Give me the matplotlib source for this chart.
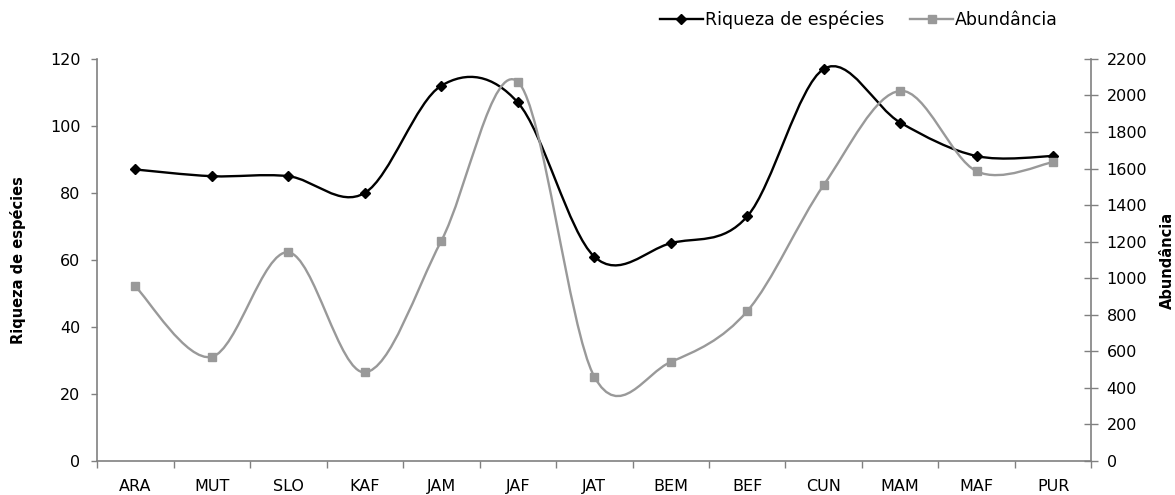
import matplotlib
matplotlib.use('Agg')
import matplotlib.pyplot as plt
from matplotlib.path import Path
from matplotlib.patches import PathPatch
from matplotlib.lines import Line2D
import numpy as np

plt.rcParams['font.family'] = ['DejaVu Sans']
plt.rcParams['font.size'] = 11.5

sites = ['ARA', 'MUT', 'SLO', 'KAF', 'JAM', 'JAF', 'JAT', 'BEM', 'BEF', 'CUN', 'MAM', 'MAF', 'PUR']
riqueza = [87, 85, 85, 80, 112, 107, 61, 65, 73, 117, 101, 91, 91]
abundancia = [955, 570, 1142, 485, 1204, 2075, 462, 542, 820, 1510, 2025, 1585, 1635]

BLACK = '#000000'
GRAY = '#999999'
SPINE = '#808080'


def smooth_path(xs, ys):
  # Excel style smoothed line: cubic bezier through the points (Catmull-Rom tangents)
  pts = np.column_stack([xs, ys]).astype(float)
  n = len(pts)
  verts = [pts[0]]
  codes = [Path.MOVETO]
  for i in range(n - 1):
    p_prev = pts[i - 1] if i > 0 else pts[i]
    p_next = pts[i + 2] if i + 2 < n else pts[i + 1]
    c1 = pts[i] + (pts[i + 1] - p_prev) / 6.0
    c2 = pts[i + 1] - (p_next - pts[i]) / 6.0
    verts += [c1, c2, pts[i + 1]]
    codes += [Path.CURVE4] * 3
  return Path(verts, codes)


fig = plt.figure(figsize=(11.75, 4.95), dpi=100)
ax = fig.add_axes([0.0826, 0.0687, 0.8463, 0.8123])
ax2 = ax.twinx()

x = np.arange(len(sites))

ax.add_patch(PathPatch(smooth_path(x, riqueza), facecolor='none', edgecolor=BLACK, lw=1.7, zorder=2))
ax.plot(x, riqueza, linestyle='none', marker='D', ms=5.5, color=BLACK, zorder=3)

ax2.add_patch(PathPatch(smooth_path(x, abundancia), facecolor='none', edgecolor=GRAY, lw=1.7, zorder=2))
ax2.plot(x, abundancia, linestyle='none', marker='s', ms=5.5, color=GRAY, zorder=3)

ax.set_xlim(-0.5, len(sites) - 0.5)
ax.set_ylim(0, 120)
ax2.set_ylim(0, 2200)
ax.set_yticks(np.arange(0, 121, 20))
ax2.set_yticks(np.arange(0, 2201, 200))

ax.set_xticks(x)
ax.set_xticklabels(sites)
ax.set_xticks(np.arange(-0.5, len(sites), 1.0), minor=True)
ax.tick_params(axis='x', which='major', length=0, pad=13)
ax.tick_params(axis='x', which='minor', length=5, width=1, color=SPINE, direction='out')
ax.tick_params(axis='y', length=4, width=1, color=SPINE, direction='out', pad=8)
ax2.tick_params(axis='y', length=10, width=1, color=SPINE, direction='inout', pad=6)

for a in (ax, ax2):
  a.spines['top'].set_visible(False)
  for s in ('left', 'right', 'bottom'):
    a.spines[s].set_color(SPINE)
    a.spines[s].set_linewidth(1.2)
ax.spines['right'].set_visible(False)
ax2.spines['left'].set_visible(False)
ax2.spines['bottom'].set_visible(False)

ax.set_ylabel('Riqueza de espécies', fontweight='bold', fontsize=10.5)
ax.yaxis.set_label_coords(-0.0714, 0.5)
ax2.set_ylabel('Abundância', fontweight='bold', fontsize=10.5)
ax2.yaxis.set_label_coords(1.069, 0.5)

handles = [Line2D([], [], color=BLACK, lw=1.7, marker='D', ms=5.5),
           Line2D([], [], color=GRAY, lw=1.7, marker='s', ms=5.5)]
fig.legend(handles, ['Riqueza de espécies', 'Abundância'], loc='upper right',
           bbox_to_anchor=(0.9004, 0.978), ncol=2, frameon=False, handlelength=2.5,
           handletextpad=0.1, columnspacing=1.5, borderpad=0, borderaxespad=0,
           fontsize=12.5)

fig.savefig('out.png', dpi=100)
